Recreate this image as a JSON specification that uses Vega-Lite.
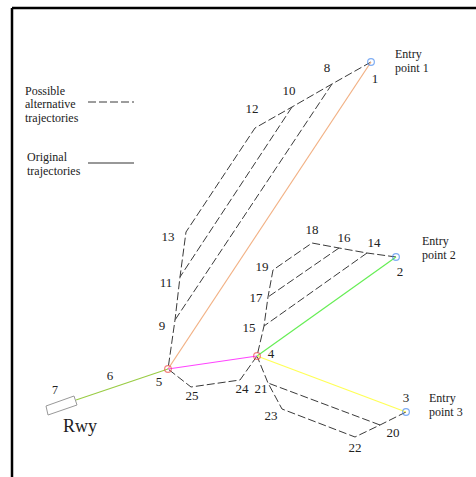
{
  "$schema": "https://vega.github.io/schema/vega-lite/v6.json",
  "width": 476,
  "height": 477,
  "autosize": "none",
  "padding": 0,
  "background": "white",
  "config": {"view": {"stroke": null}},
  "datasets": {
    "dashed": [
      {"path": "A", "o": 1, "x": 371, "y": 62}, {"path": "A", "o": 2, "x": 332, "y": 84}, {"path": "A", "o": 3, "x": 292, "y": 107}, {"path": "A", "o": 4, "x": 255, "y": 128}, {"path": "A", "o": 5, "x": 186, "y": 232}, {"path": "A", "o": 6, "x": 180, "y": 277}, {"path": "A", "o": 7, "x": 175, "y": 320}, {"path": "A", "o": 8, "x": 168, "y": 369},
      {"path": "B", "o": 1, "x": 292, "y": 107}, {"path": "B", "o": 2, "x": 180, "y": 277},
      {"path": "C", "o": 1, "x": 332, "y": 84}, {"path": "C", "o": 2, "x": 175, "y": 320},
      {"path": "D", "o": 1, "x": 396, "y": 257}, {"path": "D", "o": 2, "x": 367, "y": 253}, {"path": "D", "o": 3, "x": 339, "y": 248}, {"path": "D", "o": 4, "x": 312, "y": 243}, {"path": "D", "o": 5, "x": 273, "y": 270}, {"path": "D", "o": 6, "x": 268, "y": 297}, {"path": "D", "o": 7, "x": 264, "y": 326}, {"path": "D", "o": 8, "x": 257, "y": 356},
      {"path": "E", "o": 1, "x": 339, "y": 248}, {"path": "E", "o": 2, "x": 268, "y": 297},
      {"path": "F", "o": 1, "x": 367, "y": 253}, {"path": "F", "o": 2, "x": 264, "y": 326},
      {"path": "G", "o": 1, "x": 406, "y": 412}, {"path": "G", "o": 2, "x": 380, "y": 425}, {"path": "G", "o": 3, "x": 355, "y": 437}, {"path": "G", "o": 4, "x": 282, "y": 409}, {"path": "G", "o": 5, "x": 268, "y": 383}, {"path": "G", "o": 6, "x": 257, "y": 356},
      {"path": "H", "o": 1, "x": 380, "y": 425}, {"path": "H", "o": 2, "x": 268, "y": 383},
      {"path": "I", "o": 1, "x": 257, "y": 356}, {"path": "I", "o": 2, "x": 240, "y": 380}, {"path": "I", "o": 3, "x": 191, "y": 387}, {"path": "I", "o": 4, "x": 168, "y": 369},
      {"path": "L", "o": 1, "x": 88, "y": 102}, {"path": "L", "o": 2, "x": 134, "y": 102}
    ],
    "solid": [
      {"path": "r1", "o": 1, "x": 371, "y": 62}, {"path": "r1", "o": 2, "x": 168, "y": 369},
      {"path": "r2", "o": 1, "x": 396, "y": 257}, {"path": "r2", "o": 2, "x": 257, "y": 356},
      {"path": "r3", "o": 1, "x": 406, "y": 412}, {"path": "r3", "o": 2, "x": 257, "y": 356},
      {"path": "r45", "o": 1, "x": 257, "y": 356}, {"path": "r45", "o": 2, "x": 168, "y": 369},
      {"path": "r56", "o": 1, "x": 168, "y": 369}, {"path": "r56", "o": 2, "x": 76, "y": 400},
      {"path": "leg", "o": 1, "x": 88, "y": 163}, {"path": "leg", "o": 2, "x": 134, "y": 163}
    ],
    "rwy": [
      {"o": 1, "x": 46, "y": 406}, {"o": 2, "x": 74, "y": 396}, {"o": 3, "x": 77, "y": 405}, {"o": 4, "x": 48, "y": 415}, {"o": 5, "x": 46, "y": 406}
    ],
    "pts": [
      {"kind": "entry", "x": 371, "y": 62}, {"kind": "entry", "x": 396, "y": 257}, {"kind": "entry", "x": 406, "y": 412},
      {"kind": "merge", "x": 168, "y": 369}, {"kind": "merge", "x": 257, "y": 356}
    ],
    "labels": [
      {"t": "1", "x": 375, "y": 79, "s": 13}, {"t": "8", "x": 327, "y": 68, "s": 13}, {"t": "10", "x": 289, "y": 91, "s": 13}, {"t": "12", "x": 252, "y": 109, "s": 13},
      {"t": "13", "x": 168, "y": 237, "s": 13}, {"t": "11", "x": 166, "y": 283, "s": 13}, {"t": "9", "x": 162, "y": 326, "s": 13}, {"t": "5", "x": 159, "y": 382, "s": 13},
      {"t": "6", "x": 110, "y": 376, "s": 13}, {"t": "7", "x": 55, "y": 390, "s": 12},
      {"t": "14", "x": 374, "y": 243, "s": 13}, {"t": "16", "x": 344, "y": 238, "s": 13}, {"t": "18", "x": 312, "y": 230, "s": 13}, {"t": "19", "x": 262, "y": 267, "s": 13},
      {"t": "17", "x": 256, "y": 298, "s": 13}, {"t": "15", "x": 249, "y": 328, "s": 13}, {"t": "2", "x": 400, "y": 272, "s": 13}, {"t": "4", "x": 271, "y": 354, "s": 13},
      {"t": "3", "x": 406, "y": 398, "s": 13}, {"t": "20", "x": 393, "y": 433, "s": 13}, {"t": "22", "x": 355, "y": 448, "s": 13}, {"t": "23", "x": 271, "y": 416, "s": 13},
      {"t": "21", "x": 261, "y": 389, "s": 13}, {"t": "24", "x": 242, "y": 389, "s": 13}, {"t": "25", "x": 192, "y": 396, "s": 13},
      {"t": "Rwy", "x": 80, "y": 427, "s": 18}
    ],
    "texts": [
      {"t": "Entry", "x": 395, "y": 54}, {"t": "point 1", "x": 395, "y": 68},
      {"t": "Entry", "x": 422, "y": 241}, {"t": "point 2", "x": 422, "y": 255},
      {"t": "Entry", "x": 429, "y": 398}, {"t": "point 3", "x": 429, "y": 412},
      {"t": "Possible", "x": 25, "y": 91}, {"t": "alternative", "x": 25, "y": 104}, {"t": "trajectories", "x": 25, "y": 118},
      {"t": "Original", "x": 27, "y": 157}, {"t": "trajectories", "x": 27, "y": 171}
    ],
    "frame": [
      {"x": 12, "x2": 476, "y": 8, "y2": 8},
      {"x": 12, "x2": 12, "y": 8, "y2": 477}
    ]
  },
  "encoding": {
    "x": {"field": "x", "type": "quantitative", "scale": {"domain": [0, 476], "nice": false, "zero": false}, "axis": null},
    "y": {"field": "y", "type": "quantitative", "scale": {"domain": [477, 0], "nice": false, "zero": false}, "axis": null}
  },
  "resolve": {"scale": {"color": "independent"}},
  "layer": [
    {
      "data": {"name": "frame"},
      "mark": {"type": "rule", "color": "black", "strokeWidth": 2.5},
      "encoding": {"x2": {"field": "x2"}, "y2": {"field": "y2"}}
    },
    {
      "data": {"name": "dashed"},
      "mark": {"type": "line", "color": "#3a3a3a", "strokeWidth": 1, "strokeDash": [8, 3]},
      "encoding": {"detail": {"field": "path"}, "order": {"field": "o"}}
    },
    {
      "data": {"name": "solid"},
      "mark": {"type": "line", "strokeWidth": 1.2},
      "encoding": {
        "detail": {"field": "path"},
        "order": {"field": "o"},
        "color": {"field": "path", "type": "nominal", "legend": null,
          "scale": {"domain": ["r1", "r2", "r3", "r45", "r56", "leg"], "range": ["#f2b184", "#66ee55", "#ffff55", "#ff44ff", "#99cc44", "#333333"]}}
      }
    },
    {
      "data": {"name": "rwy"},
      "mark": {"type": "line", "color": "#999999", "strokeWidth": 1},
      "encoding": {"order": {"field": "o"}}
    },
    {
      "data": {"name": "pts"},
      "mark": {"type": "point", "shape": "circle", "filled": false, "size": 45, "strokeWidth": 1.2},
      "encoding": {
        "color": {"field": "kind", "type": "nominal", "legend": null, "scale": {"domain": ["entry", "merge"], "range": ["#4a8cf0", "#f05050"]}}
      }
    },
    {
      "data": {"name": "labels"},
      "mark": {"type": "text", "font": "Liberation Serif, Times New Roman, serif", "align": "center", "baseline": "middle", "color": "#222222"},
      "encoding": {"text": {"field": "t"}, "size": {"field": "s", "type": "quantitative", "scale": null}}
    },
    {
      "data": {"name": "texts"},
      "mark": {"type": "text", "font": "Liberation Serif, Times New Roman, serif", "fontSize": 12, "align": "left", "baseline": "middle", "color": "#222222"},
      "encoding": {"text": {"field": "t"}}
    }
  ]
}
